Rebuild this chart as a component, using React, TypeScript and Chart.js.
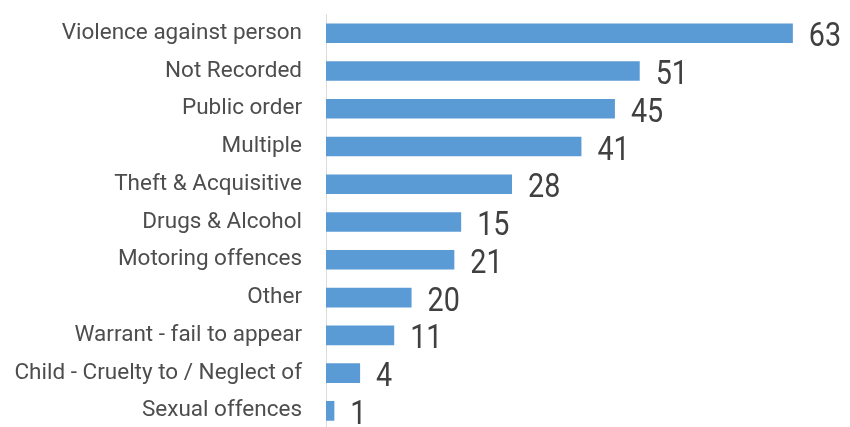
import React, { useEffect, useRef } from "react";
import { Chart, registerables } from "chart.js";

Chart.register(...registerables);

const categories = [
  "Violence against person",
  "Not Recorded",
  "Public order",
  "Multiple",
  "Theft & Acquisitive",
  "Drugs & Alcohol",
  "Motoring offences",
  "Other",
  "Warrant - fail to appear",
  "Child - Cruelty to / Neglect of",
  "Sexual offences",
];

// bar lengths
const barValues = [75.3, 50.6, 46.6, 41.2, 30.0, 21.8, 20.7, 13.8, 11.0, 5.5, 1.35];

// numbers printed next to the bars
const labelValues = [63, 51, 45, 41, 28, 15, 21, 20, 11, 4, 1];

const xMax = 84;

const valueLabelPlugin = {
  id: "valueLabels",
  afterDatasetsDraw(chart: any) {
    const ctx = chart.ctx;
    const meta = chart.getDatasetMeta(0);
    ctx.save();
    ctx.font = '33px Roboto, "Liberation Sans", sans-serif';
    ctx.fillStyle = "#404040";
    ctx.textAlign = "left";
    ctx.textBaseline = "alphabetic";
    const sx = 0.87;
    meta.data.forEach((el: any, i: number) => {
      ctx.save();
      ctx.translate(el.x + 16, el.y + 13);
      ctx.scale(sx, 1);
      ctx.fillText(String(labelValues[i]), 0, 0);
      ctx.restore();
    });
    ctx.restore();
  },
};

export default function App() {
  const ref = useRef<HTMLCanvasElement | null>(null);

  useEffect(() => {
    if (!ref.current) return;
    const chart = new Chart(ref.current, {
      type: "bar",
      data: {
        labels: categories,
        datasets: [
          {
            data: barValues,
            backgroundColor: "#5B9BD5",
            borderWidth: 0,
            categoryPercentage: 1,
            barPercentage: 0.52,
          },
        ],
      },
      options: {
        indexAxis: "y",
        responsive: false,
        animation: false,
        devicePixelRatio: 1,
        layout: { padding: { top: 14.4, right: 3.2, bottom: 0.3, left: 0 } },
        plugins: {
          legend: { display: false },
          tooltip: { enabled: false },
        },
        scales: {
          x: {
            display: false,
            min: 0,
            max: xMax,
          },
          y: {
            grid: { display: false, drawTicks: false },
            border: { display: true, color: "#dcdcdc", width: 1 },
            ticks: {
              color: "#4d4d4d",
              padding: 24,
              font: { family: "Roboto, 'Liberation Sans', sans-serif", size: 22.5 },
            },
            afterFit(scale: any) {
              scale.width = 326;
              scale.paddingTop = 0;
              scale.paddingBottom = 0;
            },
          },
        },
      },
      plugins: [valueLabelPlugin],
    });
    return () => chart.destroy();
  }, []);

  return (
    <div
      style={{
        position: "fixed",
        left: 0,
        top: 0,
        width: 850,
        height: 427,
        overflow: "hidden",
        background: "#ffffff",
      }}
    >
      <canvas ref={ref} width={850} height={430} style={{ display: "block" }} />
    </div>
  );
}
